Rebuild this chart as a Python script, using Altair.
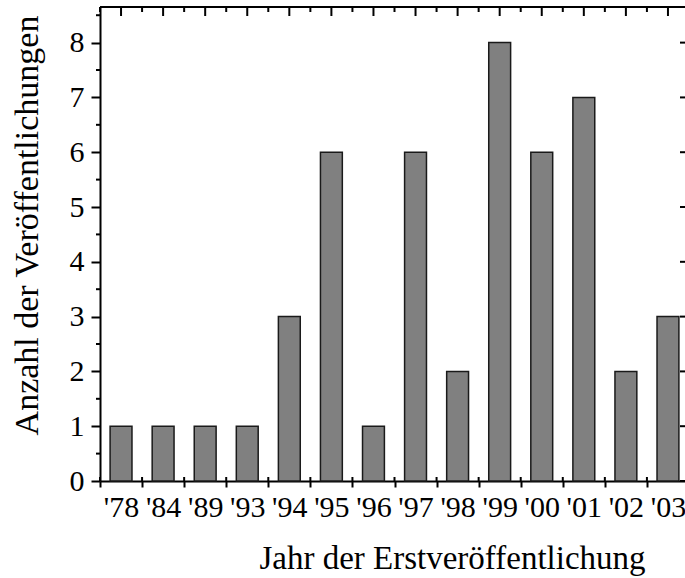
import altair as alt
import pandas as pd

# Data
years = ["'78", "'84", "'89", "'93", "'94", "'95", "'96", "'97", "'98", "'99", "'00", "'01", "'02", "'03"]
counts = [1, 1, 1, 1, 3, 6, 1, 6, 2, 8, 6, 7, 2, 3]
major_y = [0, 1, 2, 3, 4, 5, 6, 7, 8]
minor_y = [0.5, 1.5, 2.5, 3.5, 4.5, 5.5, 6.5, 7.5, 8.5]

df = pd.DataFrame({"Jahr": years, "Anzahl": counts})
df_major = pd.DataFrame({"Anzahl": major_y})
df_minor = pd.DataFrame({"Anzahl": minor_y})

FONT = "Liberation Serif"
W_VIEW = 585      # visible width (window clip)
W_FULL = 589      # real plot width (right frame lies just outside the window)
H = 474

xs = alt.Scale(domain=years, range=[0, W_FULL], paddingInner=0, paddingOuter=0)
ys = alt.Scale(domain=[0, 8.65], nice=False, zero=True)

bars = alt.Chart(df).mark_bar(
    width=alt.RelativeBandSize(0.52), color="#808080", stroke="#1a1a1a", strokeWidth=1.5
).encode(
    x=alt.X("Jahr:N", scale=xs, sort=None, axis=alt.Axis(
        title="Jahr der Erstveröffentlichung", tickBand="extent", labelAngle=0,
        labelFont=FONT, labelFontSize=30, labelColor="black", labelPadding=5,
        tickSize=6, tickWidth=2, tickColor="black",
        domainWidth=2, domainColor="black", grid=False,
        titleFont=FONT, titleFontSize=33, titleFontWeight="normal", titleColor="black",
        titleX=352, titleY=87, titleAlign="center", titleBaseline="alphabetic",
        labelOverlap=False)),
    y=alt.Y("Anzahl:Q", scale=ys, axis=alt.Axis(
        title="Anzahl der Veröffentlichungen", values=major_y, format="d",
        labelFont=FONT, labelFontSize=30, labelColor="black", labelPadding=7,
        tickSize=9, tickWidth=2, tickColor="black",
        domainWidth=2, domainColor="black", grid=False,
        titleFont=FONT, titleFontSize=34, titleFontWeight="normal", titleColor="black",
        titleX=-63, titleY=218, titleAlign="center", titleBaseline="alphabetic",
        titleAngle=-90)),
)

# left minor ticks (outward)
left_minor = alt.Chart(df_minor).mark_rule(color="black", strokeWidth=2).encode(
    y=alt.Y("Anzahl:Q", scale=ys), x=alt.value(-4), x2=alt.value(0))
# right ticks (inward)
right_major = alt.Chart(df_major).mark_rule(color="black", strokeWidth=2).encode(
    y=alt.Y("Anzahl:Q", scale=ys), x=alt.value(W_FULL - 9), x2=alt.value(W_FULL))
right_minor = alt.Chart(df_minor).mark_rule(color="black", strokeWidth=2).encode(
    y=alt.Y("Anzahl:Q", scale=ys), x=alt.value(W_FULL - 4), x2=alt.value(W_FULL))
# top ticks: long at band centres, short at band edges
top_centre = alt.Chart(df).mark_rule(color="black", strokeWidth=2).encode(
    x=alt.X("Jahr:N", scale=xs, sort=None, bandPosition=0.5),
    y=alt.value(0), y2=alt.value(9))
top_edge = alt.Chart(df).mark_rule(color="black", strokeWidth=2).encode(
    x=alt.X("Jahr:N", scale=xs, sort=None, bandPosition=0),
    y=alt.value(0), y2=alt.value(5))
# bottom ticks inner part (they cross the axis)
bottom_edge = alt.Chart(df).mark_rule(color="black", strokeWidth=2).encode(
    x=alt.X("Jahr:N", scale=xs, sort=None, bandPosition=0),
    y=alt.value(H - 4), y2=alt.value(H))
# top frame line
top_line = alt.Chart(df_major).mark_rule(color="black", strokeWidth=2).encode(
    x=alt.value(0), x2=alt.value(W_FULL), y=alt.value(0))

chart = alt.layer(
    bars, left_minor, right_major, right_minor, top_centre, top_edge, bottom_edge, top_line
).properties(
    width=W_VIEW, height=H,
    autosize=alt.AutoSizeParams(type="none"),
    padding={"left": 100, "top": 7, "right": 0, "bottom": 97},
).configure_view(stroke=None).configure(background="white")

chart.save("out.html", embed_options={"renderer": "svg", "actions": False})
